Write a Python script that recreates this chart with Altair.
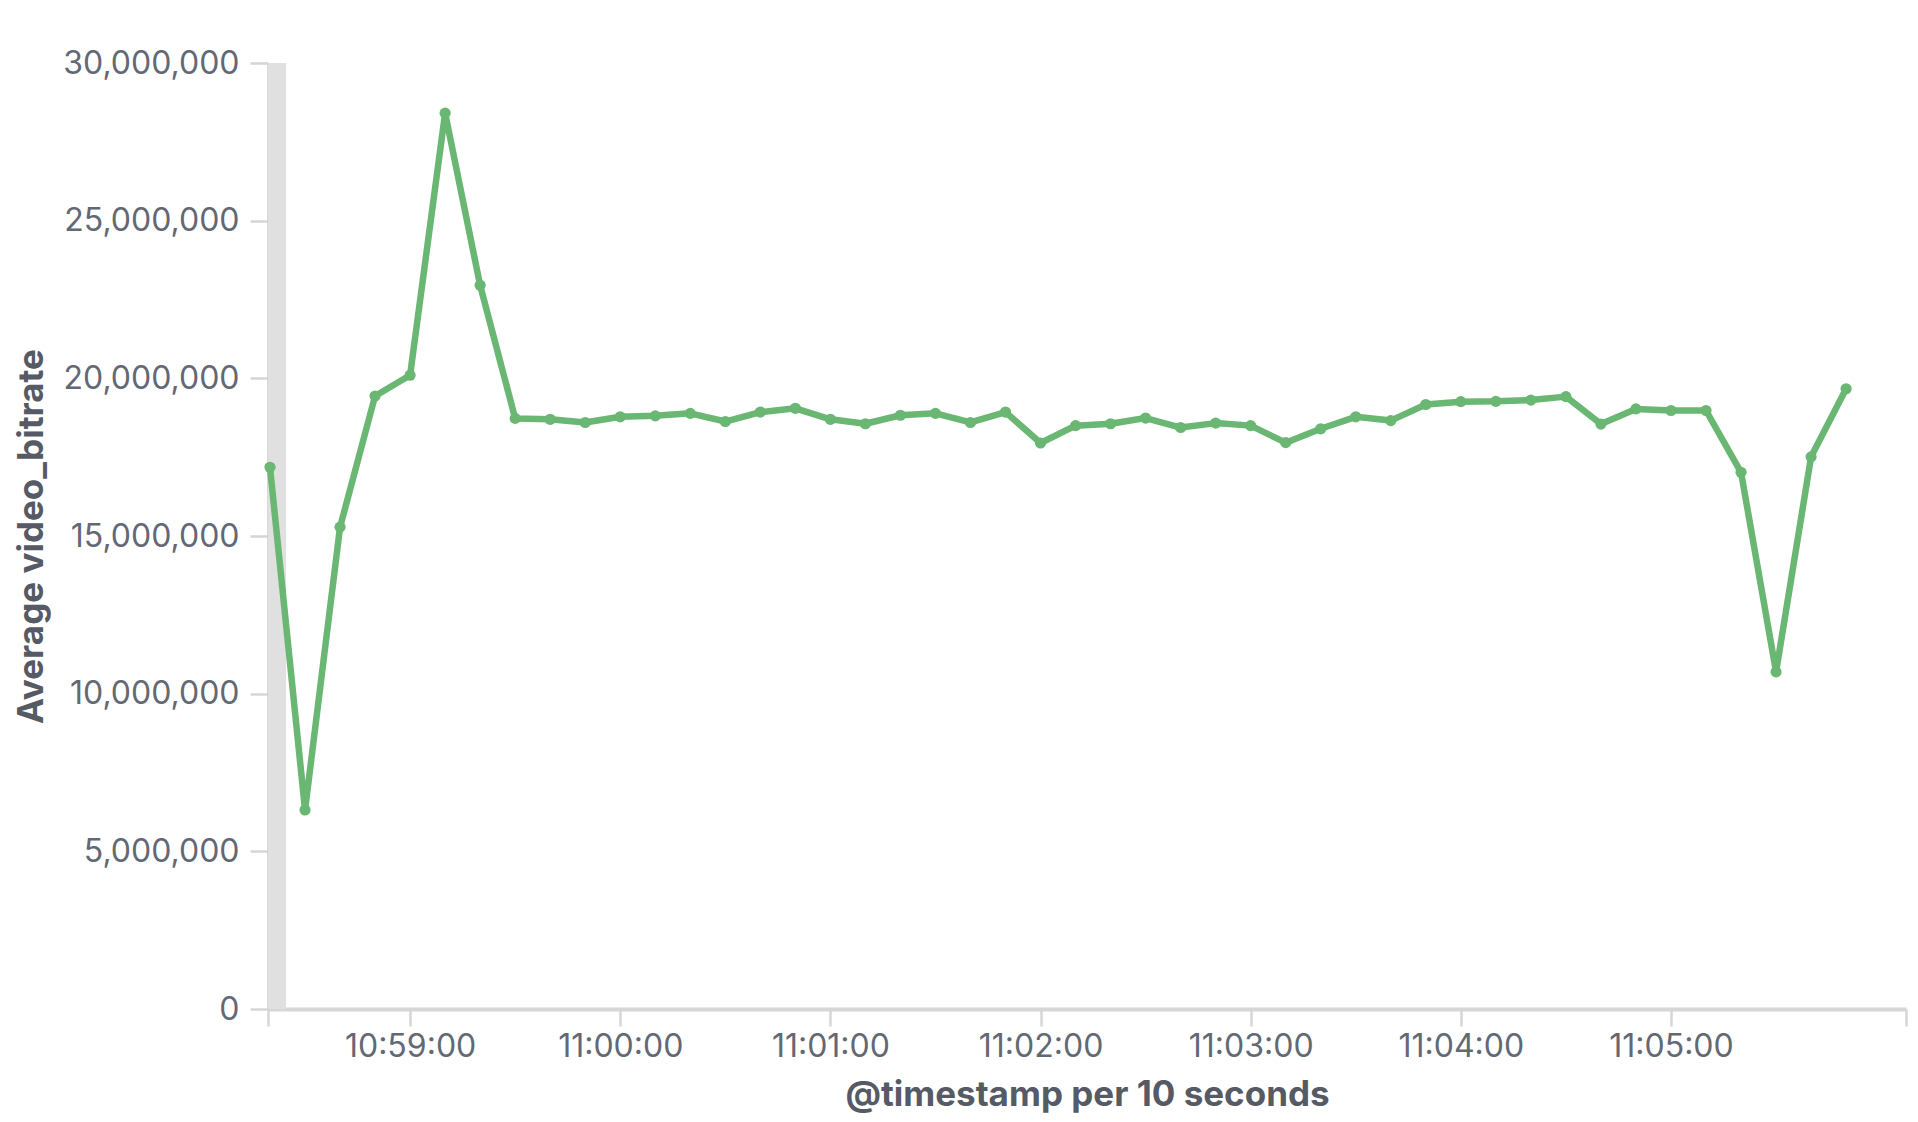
import altair as alt
import pandas as pd

# ---- data ----
times = [
    "10:58:20", "10:58:30", "10:58:40", "10:58:50",
    "10:59:00", "10:59:10", "10:59:20", "10:59:30", "10:59:40", "10:59:50",
    "11:00:00", "11:00:10", "11:00:20", "11:00:30", "11:00:40", "11:00:50",
    "11:01:00", "11:01:10", "11:01:20", "11:01:30", "11:01:40", "11:01:50",
    "11:02:00", "11:02:10", "11:02:20", "11:02:30", "11:02:40", "11:02:50",
    "11:03:00", "11:03:10", "11:03:20", "11:03:30", "11:03:40", "11:03:50",
    "11:04:00", "11:04:10", "11:04:20", "11:04:30", "11:04:40", "11:04:50",
    "11:05:00", "11:05:10", "11:05:20", "11:05:30", "11:05:40", "11:05:50",
]
bitrate = [
    17180000, 6310000, 15280000, 19440000,
    20100000, 28410000, 22950000, 18730000, 18700000, 18600000,
    18780000, 18810000, 18890000, 18630000, 18930000, 19050000,
    18700000, 18560000, 18830000, 18890000, 18600000, 18930000,
    17950000, 18500000, 18560000, 18740000, 18440000, 18580000,
    18500000, 17960000, 18400000, 18780000, 18660000, 19170000,
    19260000, 19270000, 19310000, 19420000, 18550000, 19030000,
    18980000, 18980000, 17020000, 10690000, 17510000, 19670000,
]
y_ticks = [0, 5000000, 10000000, 15000000, 20000000, 25000000, 30000000]
x_tick_times = ["10:59:00", "11:00:00", "11:01:00", "11:02:00",
                "11:03:00", "11:04:00", "11:05:00"]
band_start = "10:58:19.4"
band_end = "10:58:24.6"
domain_start = (10, 58, 19, 430)
domain_end = (11, 6, 7, 100)

DAY = "2024-01-01T"
df = pd.DataFrame({"ts": [DAY + t for t in times], "value": bitrate})
band_df = pd.DataFrame({"start": [DAY + band_start], "end": [DAY + band_end],
                        "y0": [0], "y1": [30000000]})


def dt(h, m, s, ms=0):
    return alt.DateTime(year=2024, month=1, date=1, hours=h, minutes=m,
                        seconds=s, milliseconds=ms)


tick_vals = [dt(*domain_start)]
for t in x_tick_times:
    h, m, s = (int(p) for p in t.split(":"))
    tick_vals.append(dt(h, m, s))
tick_vals.append(dt(*domain_end))

LINE = "#6ab673"
LABEL = "#626874"
TITLE = "#555a65"
AXIS = "#d6d6d6"
FONT = "Inter"

x_scale = alt.Scale(domain=[dt(*domain_start), dt(*domain_end)], nice=False)
y_scale = alt.Scale(domain=[0, 30000000], nice=False)

x_axis = alt.Axis(
    title="@timestamp per 10 seconds",
    values=tick_vals,
    labelExpr="timeFormat(datum.value, '%S') == '00' ? timeFormat(datum.value, '%H:%M:%S') : ''",
    grid=False,
    domainColor=AXIS, domainWidth=4,
    tickColor=AXIS, tickWidth=2.5, tickSize=17,
    labelFont=FONT, labelFontSize=32, labelColor=LABEL, labelPadding=5,
    labelFlush=False, labelOverlap=False,
    titleFont=FONT, titleFontSize=35, titleFontWeight="bold", titleColor=TITLE,
    titleX=819, titleY=85, titleBaseline="middle", titleAlign="center",
)
y_axis = alt.Axis(
    title="Average video_bitrate",
    values=y_ticks,
    format=",d",
    grid=False,
    domainColor="#cacaca", domainWidth=2.5,
    tickColor=AXIS, tickWidth=2.5, tickSize=18,
    labelFont=FONT, labelFontSize=32, labelColor=LABEL, labelPadding=11,
    labelBaseline="middle",
    titleFont=FONT, titleFontSize=35, titleFontWeight="bold", titleColor=TITLE,
    titleAngle=-90, titleX=-237, titleY=473,
    titleBaseline="middle", titleAlign="center",
)

band = alt.Chart(band_df).mark_rect(color="#e0e0e0").encode(
    x=alt.X("start:T", scale=x_scale, axis=x_axis),
    x2="end:T",
    y=alt.Y("y0:Q", scale=y_scale, axis=y_axis),
    y2="y1:Q",
)

line = alt.Chart(df).mark_line(
    color=LINE, strokeWidth=6.5, strokeJoin="round", strokeCap="round",
    point=alt.OverlayMarkDef(filled=True, color=LINE, size=125, opacity=1),
).encode(
    x=alt.X("ts:T", scale=x_scale, axis=x_axis),
    y=alt.Y("value:Q", scale=y_scale, axis=y_axis),
)

chart = alt.layer(band, line).properties(
    width=1638,
    height=946,
    background="white",
    autosize=alt.AutoSizeParams(type="none"),
    padding={"left": 260, "top": 55, "right": 2, "bottom": 105},
).configure_view(stroke=None, strokeWidth=0)

chart.save("out.html", embed_options={"renderer": "svg", "actions": False})
